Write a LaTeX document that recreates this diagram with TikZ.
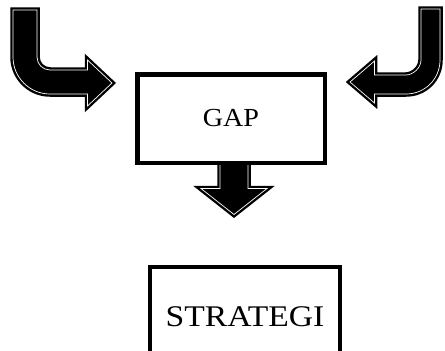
\documentclass[tikz,border=0pt]{standalone}
\usepackage{fontspec}
\setmainfont{Liberation Serif}
\begin{document}
\begin{tikzpicture}[x=1pt,y=-1pt,
  boxnode/.style={draw=black, line width=4.5pt, fill=white, inner sep=0pt},
  blockarrow/.style={fill=black, draw=black, line width=2.4pt, double=white, double distance=0.7pt, line join=miter}]
\useasboundingbox (0,0) rectangle (445,351);
\clip (0,0) rectangle (445,351);
\fill[white] (0,0) rectangle (445,351);
% down arrow from GAP to STRATEGI (drawn first so the box border covers its top)
\draw[blockarrow] (220,160) -- (248,160) -- (248,188.5) -- (267,188.5) -- (234,214.5)
  -- (201,188.5) -- (220,188.5) -- cycle;
% GAP box
\node[boxnode, minimum width=187.5pt, minimum height=88.5pt] (gap) at (231,118.5)
  {\fontsize{26}{30}\selectfont\scalebox{1.08}[1]{GAP}};
% STRATEGI box
\node[boxnode, line width=4pt, minimum width=190pt, minimum height=100pt, anchor=north] (strat) at (245,265)
  {\fontsize{30}{34}\selectfont\scalebox{1.12}[1]{STRATEGI}};
% left bent arrow
\draw[blockarrow] (13,10) -- (37,10) -- (37,57)
  .. controls (37,64.2) and (42.8,70) .. (50,70)
  -- (87.5,70) -- (87.5,60) -- (112,83) -- (87.5,106) -- (87.5,94) -- (50,94)
  .. controls (29.6,94) and (13,77.4) .. (13,57) -- cycle;
% right bent arrow
\draw[blockarrow] (421,9) -- (440,9) -- (440,60)
  .. controls (440,79) and (425,94) .. (406,94)
  -- (374.5,94) -- (374.5,103) -- (350,82) -- (374.5,61) -- (374.5,75) -- (406,75)
  .. controls (412.6,75) and (421,68.3) .. (421,60) -- cycle;
\end{tikzpicture}
\end{document}
